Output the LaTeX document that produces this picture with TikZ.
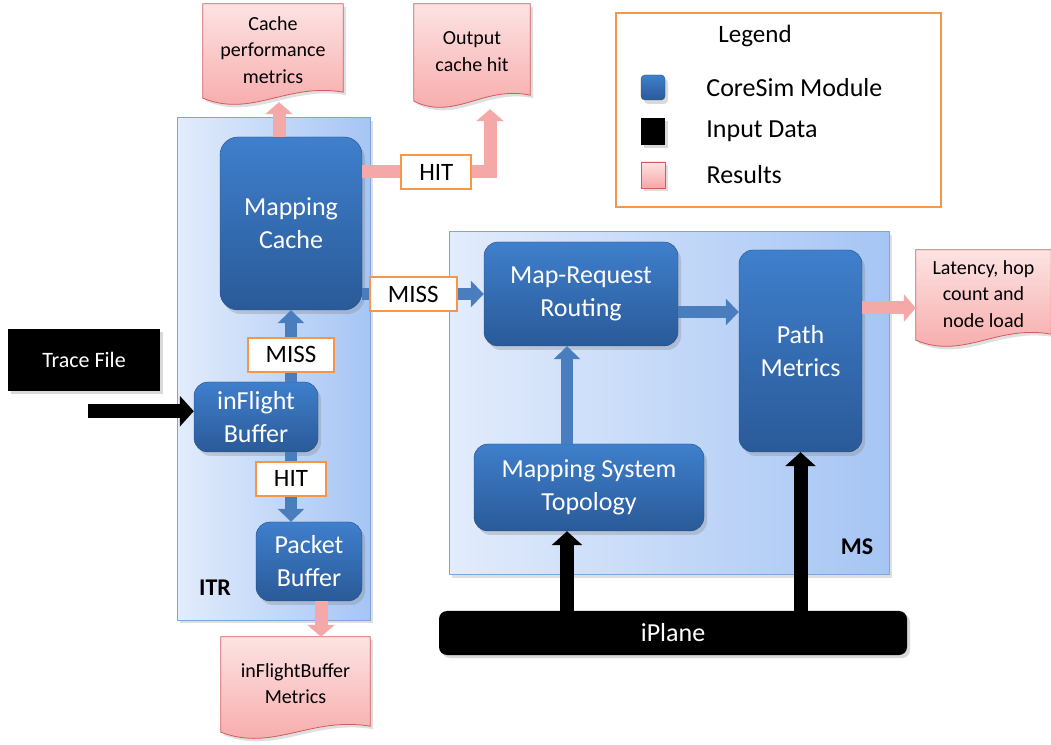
\documentclass[tikz,border=0pt]{standalone}
\usepackage{fontspec}
\setmainfont{Carlito}
\usetikzlibrary{arrows.meta, positioning, calc, shadows}
\definecolor{modtop}{HTML}{3F7FCC}
\definecolor{modbot}{HTML}{2A5A98}
\definecolor{boxleft}{HTML}{E2ECFC}
\definecolor{boxright}{HTML}{A6C5F4}
\definecolor{boxline}{HTML}{7FA6DC}
\definecolor{restop}{HTML}{FDE3E3}
\definecolor{resbot}{HTML}{F7A6A6}
\definecolor{resline}{HTML}{D25B5B}
\definecolor{flowblue}{HTML}{4A7DBD}
\definecolor{flowpink}{HTML}{F4A8A8}
\definecolor{lblorange}{HTML}{F79646}
\pgfdeclarelayer{background}
\pgfsetlayers{background,main}
\tikzstyle{module} = [rectangle, rounded corners=14pt, top color=modtop, bottom color=modbot, draw=modbot!85!black, text=white, align=center, inner sep=0pt, font=\fontsize{26}{33}\selectfont, drop shadow={opacity=0.3, shadow xshift=3pt, shadow yshift=-4pt}]
\tikzstyle{container} = [rectangle, left color=boxleft, right color=boxright, draw=boxline, line width=1pt, drop shadow={opacity=0.25, shadow xshift=3pt, shadow yshift=-3pt}]
\tikzstyle{inputdata} = [rectangle, fill=black, text=white, align=center, inner sep=0pt, drop shadow={opacity=0.3, shadow xshift=3pt, shadow yshift=-3pt}]
\tikzstyle{result} = [rectangle, align=center, inner sep=0pt, font=\fontsize{20}{26.5}\selectfont]
\tikzstyle{lbl} = [rectangle, draw=lblorange, line width=2pt, fill=white, text=black, inner xsep=18pt, inner ysep=0pt, minimum height=34pt, font=\fontsize{25}{30}\selectfont]
\tikzstyle{modflow} = [line width=12pt, draw=flowblue, -{Triangle[width=26pt, length=13pt]}]
\tikzstyle{resflow} = [line width=13pt, draw=flowpink, -{Triangle[width=27pt, length=12pt]}]
\tikzstyle{dataflow} = [line width=14pt, draw=black, -{Triangle[width=30pt, length=14pt]}]
\tikzstyle{sheet} = [top color=restop, bottom color=resbot, draw=resline, line width=0.8pt, drop shadow={opacity=0.25, shadow xshift=3pt, shadow yshift=-3pt}]
\newcommand{\resultsheet}[1]{%
	\path[sheet] (#1.north west) -- (#1.north east) -- ([yshift=4pt]#1.south east)
		.. controls ($(#1.south west)!0.6!(#1.south east)+(0,14pt)$) and ($(#1.south west)!0.35!(#1.south east)+(0,-22pt)$) .. ([yshift=-2pt]#1.south west) -- cycle;}
\begin{document}
\begin{tikzpicture}[x=1pt, y=1pt]
	\useasboundingbox (0,0) rectangle (1051,744);

	% Containers
	\node (itr) [container, minimum width=193pt, minimum height=502pt] at (273.5,375) {};
	\node (ms) [container, minimum width=440pt, minimum height=343pt] at (669,340.5) {};
	\node (itrlabel) at (215,156) {\fontsize{24}{28}\selectfont\bfseries ITR};
	\node (mslabel) at (857,197) {\fontsize{24}{28}\selectfont\bfseries MS};

	% ITR modules
	\node (mapcache) [module, rounded corners=18pt, minimum width=142pt, minimum height=173pt] at (291,520.5) {Mapping\\Cache};
	\node (inflight) [module, minimum width=124pt, minimum height=70pt] at (256,327) {inFlight\\Buffer};
	\node (packet) [module, minimum width=106pt, minimum height=79pt] at (309,182.5) {Packet\\Buffer};

	% MS modules
	\node (routing) [module, minimum width=194pt, minimum height=104pt] at (581,450) {Map-Request\\Routing};
	\node (pathm) [module, minimum width=123pt, minimum height=202pt] at (800.5,393) {Path\\Metrics};
	\node (topo) [module, minimum width=230pt, minimum height=87pt] at (589,256.5) {Mapping System\\Topology};

	% Input data
	\node (trace) [inputdata, minimum width=152pt, minimum height=62pt, font=\fontsize{22}{26}\selectfont] at (84,384) {Trace File};
	\node (iplane) [inputdata, rounded corners=8pt, minimum width=468pt, minimum height=44pt, font=\fontsize{26}{30}\selectfont] at (673,111) {iPlane};

	% Results
	\node (cacheperf) [result, minimum width=140pt, minimum height=92pt] at (273,694) {Cache\\performance\\metrics};
	\node (outhit) [result, minimum width=116pt, minimum height=95pt] at (472,692.5) {Output\\cache hit};
	\node (latency) [result, minimum width=135pt, minimum height=88pt] at (983.5,450) {Latency, hop\\count and\\node load};
	\node (ifbm) [result, minimum width=149pt, minimum height=93pt] at (295.5,60.5) {inFlightBuffer\\Metrics};
	\begin{pgfonlayer}{background}
		\resultsheet{cacheperf}
		\resultsheet{outhit}
		\resultsheet{latency}
		\resultsheet{ifbm}
	\end{pgfonlayer}

	% Arrows - ITR
	\coordinate (tracein) at ([xshift=4pt,yshift=-20pt]trace.south);
	\draw[dataflow] (tracein) -- (tracein -| inflight.west);
	\draw[modflow] (inflight.north -| mapcache.south) -- node[lbl, pos=0.375] {MISS} (mapcache.south);
	\draw[modflow] (inflight.south -| mapcache.south) -- node[lbl, pos=0.38] {HIT} (packet.north -| mapcache.south);
	\draw[resflow] ([xshift=-12pt]mapcache.north) -- ([xshift=6pt,yshift=-6pt]cacheperf.south);
	\draw[resflow] ([yshift=51.5pt]mapcache.east) -| node[lbl, pos=0.29] {HIT} ([xshift=18pt,yshift=-10pt]outhit.south);
	\coordinate (pbout) at ([xshift=12pt]packet.south);
	\draw[resflow] (pbout) -- (pbout |- ifbm.north);

	% Arrows - MS
	\draw[modflow] (mapcache.east |- routing.west) -- node[lbl, pos=0.42] {MISS} (routing.west);
	\coordinate (rtin) at ([xshift=-14pt]routing.south);
	\draw[modflow] (rtin |- topo.north) -- (rtin);
	\coordinate (rtout) at ([yshift=-18pt]routing.east);
	\draw[modflow] (rtout) -- (rtout -| pathm.west);
	\coordinate (pmout) at ([yshift=43pt]pathm.east);
	\draw[resflow] (pmout) -- (pmout -| latency.west);
	\draw[dataflow] (rtin |- iplane.north) -- (rtin |- topo.south);
	\draw[dataflow] (iplane.north -| pathm.south) -- (pathm.south);

	% Legend
	\node (legend) [rectangle, draw=lblorange, line width=2pt, minimum width=325pt, minimum height=194pt] at (778.5,634) {};
	\node (legendtitle) at (755,708) {\fontsize{25}{30}\selectfont Legend};
	\node (keymod) [module, rounded corners=4pt, minimum width=24pt, minimum height=25pt] at (653,656.5) {};
	\node (keydata) [inputdata, minimum width=24pt, minimum height=27pt] at (653,612.5) {};
	\node (keyres) [sheet, rectangle, minimum width=24pt, minimum height=26pt] at (653,569) {};
	\node (keymodtext) [right=41pt of keymod, inner sep=0pt, font=\fontsize{26}{30}\selectfont] {CoreSim Module};
	\node (keydatatext) [right=41pt of keydata, inner sep=0pt, font=\fontsize{26}{30}\selectfont] {Input Data};
	\node (keyrestext) [right=41pt of keyres, inner sep=0pt, font=\fontsize{26}{30}\selectfont] {Results};

\end{tikzpicture}
\end{document}
